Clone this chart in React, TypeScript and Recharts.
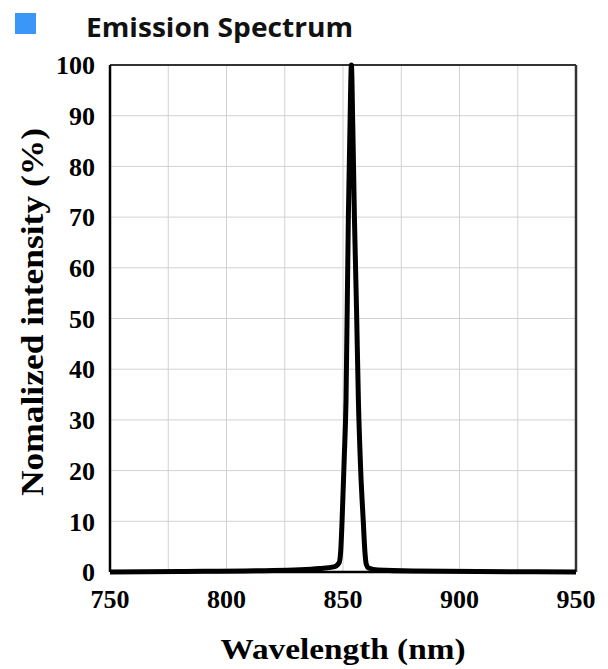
import React from 'react';
import { LineChart, Line, XAxis, YAxis, CartesianGrid, ReferenceLine } from 'recharts';

const wavelengths = [750, 780, 820, 840, 846, 848.3, 849, 849.6, 850.5, 851.3, 852.3, 853, 853.6, 854.2, 854.9, 855.8, 856.6, 857.6, 858.7, 859.4, 860, 861, 865, 880, 950];
const intensities = [0, 0.1, 0.3, 0.7, 1.0, 1.8, 4, 10, 22, 34, 70, 88, 100, 88, 70, 52, 34, 20, 10, 4, 1.5, 0.8, 0.4, 0.2, 0];
const xTicks = [750, 775, 800, 825, 850, 875, 900, 925, 950];
const yTicks = [0, 10, 20, 30, 40, 50, 60, 70, 80, 90, 100];
const title = 'Emission Spectrum';
const xLabel = 'Wavelength (nm)';
const yLabel = 'Nomalized intensity (%)';

const data = wavelengths.map((w, i) => ({ w, v: intensities[i] }));

const tickStyle = { fontFamily: 'Liberation Serif', fontWeight: 700, fontSize: 26, fill: '#000' };

export default function App() {
  return (
    <div style={{ position: 'absolute', left: 0, top: 0, width: 608, height: 669, background: '#fff' }}>
      <div style={{ position: 'absolute', left: 0, top: 0 }}>
        <LineChart width={608} height={669} data={data} margin={{ top: 65, right: 32, left: 0, bottom: 0 }}>
          <CartesianGrid stroke="#d2d2d2" strokeWidth={1} />
          <XAxis
            dataKey="w"
            type="number"
            domain={[750, 950]}
            ticks={xTicks}
            interval={0}
            tickFormatter={(v: number) => (v % 50 === 0 ? String(v) : '')}
            tickLine={false}
            tickSize={0}
            tickMargin={18}
            height={97}
            axisLine={{ stroke: '#000', strokeWidth: 2.5 }}
            tick={tickStyle}
          />
          <YAxis
            type="number"
            domain={[0, 100]}
            ticks={yTicks}
            interval={0}
            tickLine={false}
            tickSize={0}
            tickMargin={15}
            width={110}
            axisLine={{ stroke: '#000', strokeWidth: 2.5 }}
            tick={tickStyle}
          />
          <ReferenceLine y={100} stroke="#333" strokeWidth={2} />
          <ReferenceLine x={950} stroke="#333" strokeWidth={2.5} />
          <Line
            type="monotone"
            dataKey="v"
            stroke="#000"
            strokeWidth={5}
            dot={false}
            isAnimationActive={false}
          />
        </LineChart>
      </div>
      <svg width={608} height={669} style={{ position: 'absolute', left: 0, top: 0, pointerEvents: 'none' }}>
        <rect x={15} y={13} width={21} height={21} fill="#3b97f7" />
        <text x={86} y={37} fontFamily="Open Sans" fontWeight={700} fontSize={27} fill="#111" textLength={267} lengthAdjust="spacingAndGlyphs">
          {title}
        </text>
        <text
          transform="translate(43,312) rotate(-90)"
          textAnchor="middle"
          fontFamily="Liberation Serif"
          fontWeight={700}
          fontSize={31}
          fill="#000"
          textLength={368}
          lengthAdjust="spacingAndGlyphs"
        >
          {yLabel}
        </text>
        <text
          x={343}
          y={659}
          textAnchor="middle"
          fontFamily="Liberation Serif"
          fontWeight={700}
          fontSize={30}
          fill="#000"
          textLength={245}
          lengthAdjust="spacingAndGlyphs"
        >
          {xLabel}
        </text>
      </svg>
    </div>
  );
}
